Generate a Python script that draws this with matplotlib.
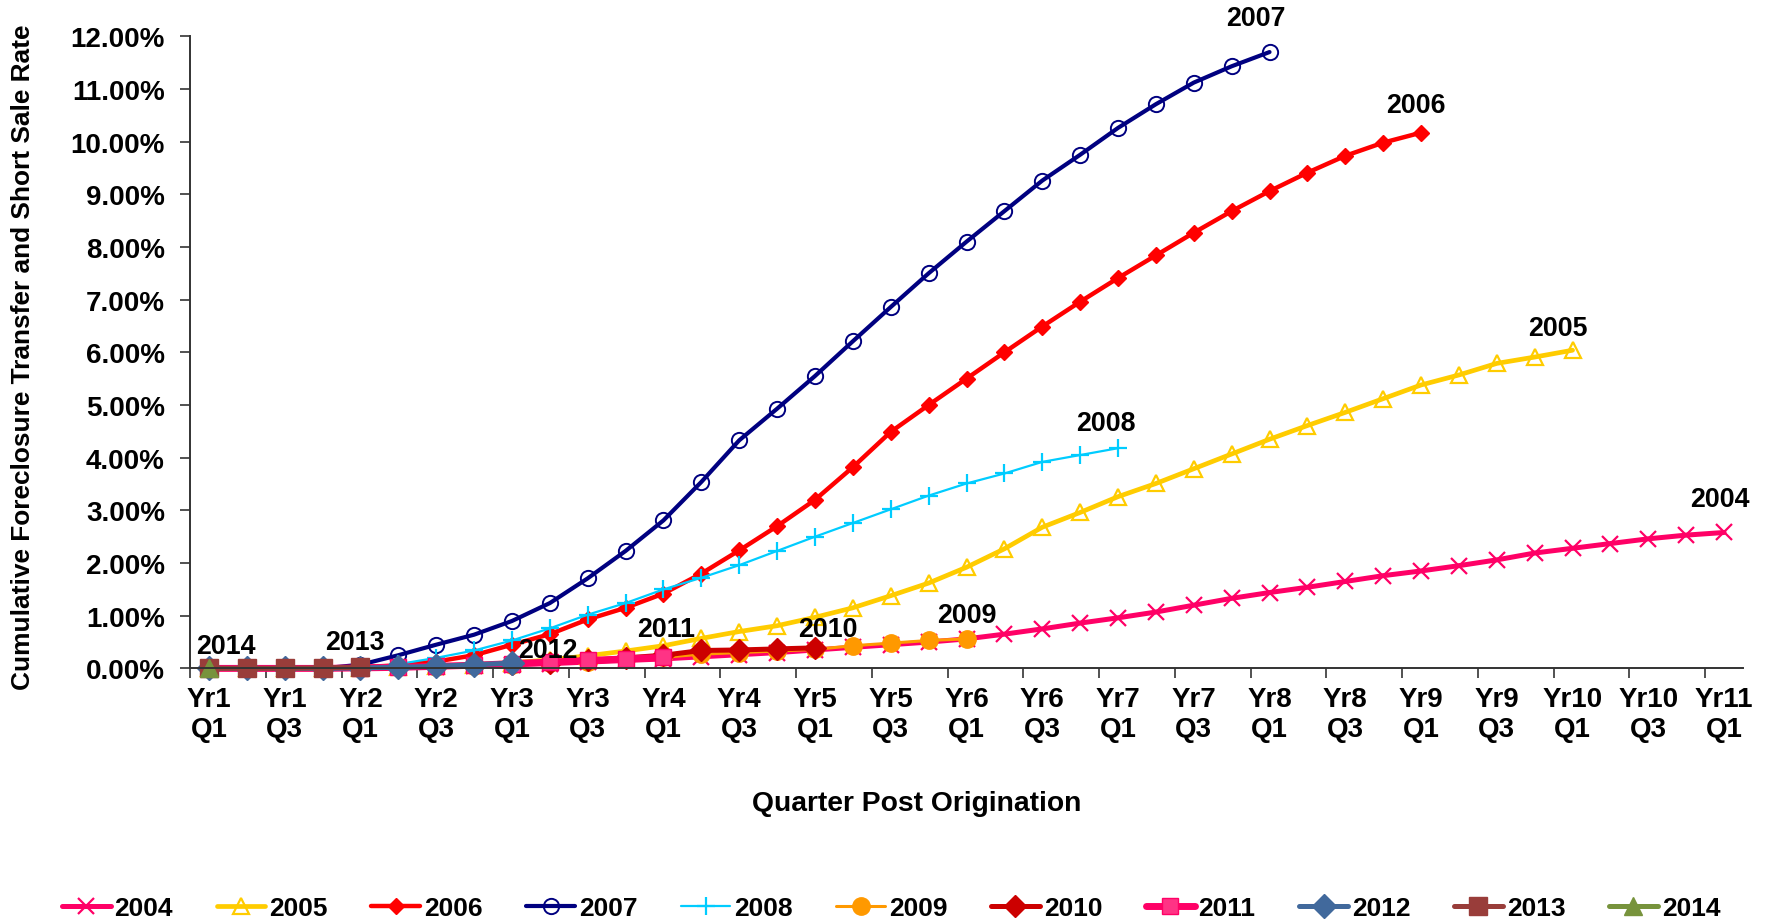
import matplotlib
matplotlib.use("Agg")
import matplotlib.pyplot as plt
import numpy as np

plt.rcParams['font.family'] = ['Liberation Sans', 'DejaVu Sans']
plt.rcParams['font.weight'] = 'bold'

# ---------------- data (cumulative rate, %) ----------------
x_tick_labels = ["Yr1\nQ1", "Yr1\nQ3", "Yr2\nQ1", "Yr2\nQ3", "Yr3\nQ1", "Yr3\nQ3",
                 "Yr4\nQ1", "Yr4\nQ3", "Yr5\nQ1", "Yr5\nQ3", "Yr6\nQ1", "Yr6\nQ3",
                 "Yr7\nQ1", "Yr7\nQ3", "Yr8\nQ1", "Yr8\nQ3", "Yr9\nQ1", "Yr9\nQ3",
                 "Yr10\nQ1", "Yr10\nQ3", "Yr11\nQ1"]

s2004 = [0, 0, 0, 0, 0.01, 0.02, 0.03, 0.05, 0.07, 0.09, 0.12, 0.15, 0.18, 0.22,
         0.26, 0.30, 0.35, 0.40, 0.45, 0.50, 0.56, 0.65, 0.75, 0.86, 0.96, 1.07,
         1.20, 1.33, 1.44, 1.54, 1.65, 1.76, 1.85, 1.95, 2.06, 2.19, 2.28, 2.37,
         2.46, 2.53, 2.58]
s2005 = [0, 0, 0, 0, 0.01, 0.02, 0.04, 0.07, 0.11, 0.16, 0.24, 0.33, 0.43, 0.57,
         0.70, 0.81, 0.97, 1.15, 1.38, 1.62, 1.92, 2.27, 2.68, 2.96, 3.26, 3.51,
         3.79, 4.07, 4.35, 4.61, 4.86, 5.12, 5.38, 5.57, 5.79, 5.91, 6.04]
s2006 = [0, 0, 0, 0, 0.02, 0.06, 0.13, 0.25, 0.45, 0.65, 0.93, 1.15, 1.42, 1.80,
         2.24, 2.70, 3.20, 3.82, 4.49, 5.00, 5.50, 6.00, 6.49, 6.96, 7.41, 7.84,
         8.27, 8.68, 9.06, 9.41, 9.73, 9.98, 10.17]
s2007 = [0, 0, 0, 0, 0.07, 0.25, 0.45, 0.64, 0.90, 1.24, 1.71, 2.23, 2.81, 3.54,
         4.33, 4.93, 5.55, 6.21, 6.86, 7.50, 8.10, 8.68, 9.26, 9.75, 10.26, 10.71,
         11.12, 11.43, 11.70]
s2008 = [0, 0, 0, 0, 0.02, 0.08, 0.20, 0.34, 0.53, 0.76, 1.02, 1.24, 1.50, 1.72,
         1.96, 2.23, 2.50, 2.76, 3.02, 3.28, 3.51, 3.70, 3.92, 4.05, 4.18]
s2009 = [0, 0, 0, 0, 0.01, 0.02, 0.03, 0.05, 0.07, 0.10, 0.13, 0.17, 0.21, 0.27,
         0.30, 0.33, 0.36, 0.43, 0.48, 0.53, 0.56]
s2010 = [0, 0, 0, 0, 0.01, 0.02, 0.04, 0.06, 0.08, 0.11, 0.15, 0.20, 0.25, 0.34,
         0.35, 0.37, 0.39]
s2011 = [0, 0, 0, 0, 0.01, 0.02, 0.04, 0.06, 0.09, 0.12, 0.15, 0.18, 0.21]
s2012 = [0, 0, 0, 0, 0.01, 0.02, 0.04, 0.07, 0.10]
s2013 = [0, 0, 0, 0.01, 0.02]
s2014 = [0]

series_names = ["2004", "2005", "2006", "2007", "2008", "2009", "2010", "2011",
                "2012", "2013", "2014"]
series_values = [s2004, s2005, s2006, s2007, s2008, s2009, s2010, s2011, s2012,
                 s2013, s2014]

# ---------------- styles ----------------
styles = {
    "2004": dict(color="#FF0066", lw=3.6, marker="x", ms=11, mew=1.6, mfc="#FF0066", mec="#FF0066"),
    "2005": dict(color="#FFCC00", lw=3.4, marker="^", ms=12, mew=1.6, mfc="none", mec="#FFCC00"),
    "2006": dict(color="#FF0000", lw=3.2, marker="D", ms=8, mew=1, mfc="#FF0000", mec="#FF0000"),
    "2007": dict(color="#000080", lw=3.0, marker="o", ms=11, mew=1.4, mfc="none", mec="#000080"),
    "2008": dict(color="#00CCFF", lw=1.6, marker="+", ms=13, mew=1.6, mfc="#00CCFF", mec="#00CCFF"),
    "2009": dict(color="#FF9900", lw=2.2, marker="o", ms=12.5, mew=1, mfc="#FF9900", mec="#FF9900"),
    "2010": dict(color="#CC0000", lw=3.6, marker="D", ms=11, mew=1, mfc="#CC0000", mec="#CC0000"),
    "2011": dict(color="#FF0066", lw=5.0, marker="s", ms=12, mew=1, mfc="#FF3385", mec="#FF0066"),
    "2012": dict(color="#41699C", lw=3.6, marker="D", ms=12, mew=1, mfc="#41699C", mec="#41699C"),
    "2013": dict(color="#993D3A", lw=3.6, marker="s", ms=13, mew=1, mfc="#993D3A", mec="#993D3A"),
    "2014": dict(color="#77933C", lw=3.6, marker="^", ms=13, mew=1, mfc="#77933C", mec="#77933C"),
}

# label positions (x in quarter index, y in %)
label_pos = {
    "2007": (27.63, 12.35), "2006": (31.86, 10.69), "2005": (35.62, 6.47),
    "2008": (23.69, 4.65), "2004": (39.90, 3.22), "2009": (20.0, 1.01),
    "2010": (16.33, 0.75), "2011": (12.07, 0.75), "2012": (8.94, 0.35),
    "2013": (3.84, 0.51), "2014": (0.45, 0.43),
}

FS_TICK = 20
FS_ANN = 19.3

fig = plt.figure(figsize=(17.7, 9.2), dpi=100)
ax = fig.add_axes([190 / 1770, 1 - 669.4 / 920, (1743 - 190) / 1770, (669.4 - 37.25) / 920])

handles = []
for name, vals in zip(series_names, series_values):
    st = styles[name]
    xs = np.arange(len(vals))
    h, = ax.plot(xs, vals, color=st["color"], lw=st["lw"], marker=st["marker"],
                 ms=st["ms"], mew=st["mew"], mfc=st["mfc"], mec=st["mec"],
                 label=name, clip_on=False, solid_capstyle="round")
    handles.append(h)

for name in series_names:
    lx, ly = label_pos[name]
    ax.text(lx, ly, name, ha="center", va="center", fontsize=FS_ANN, fontweight="bold",
            clip_on=False)

ax.set_xlim(-0.5, 40.5)
ax.set_ylim(0, 12)

ax.set_xticks(np.arange(-0.5, 40, 2))
ax.set_xticklabels([])
ax.set_xticks(np.arange(0, 41, 2), minor=True)
ax.set_xticklabels(x_tick_labels, minor=True, fontsize=FS_TICK, fontweight="bold")
ax.tick_params(axis="x", which="major", direction="out", length=7, width=1.2, color="#333333")
ax.tick_params(axis="x", which="minor", length=0, pad=13)

ax.set_yticks(np.arange(0, 13, 1))
ax.set_yticklabels([f"{v:.2f}%" for v in np.arange(0, 13, 1)], fontsize=FS_TICK, fontweight="bold")
ax.tick_params(axis="y", direction="out", length=7, width=1.2, color="#333333", pad=11)

for side in ["top", "right"]:
    ax.spines[side].set_visible(False)
for side in ["left", "bottom"]:
    ax.spines[side].set_color("#333333")
    ax.spines[side].set_linewidth(1.4)

fig.text(22.6 / 1770, 1 - 357 / 920, "Cumulative Foreclosure Transfer and Short Sale Rate",
         rotation=90, ha="center", va="center", fontsize=18.9, fontweight="bold")
fig.text(917 / 1770, 1 - 804 / 920, "Quarter Post Origination",
         ha="center", va="center", fontsize=20.3, fontweight="bold")

fig.legend(handles, series_names, ncol=11, loc="center",
           bbox_to_anchor=(891 / 1770, 11 / 920), frameon=False,
           prop=dict(size=19, weight="bold"), handlelength=1.85, handletextpad=0.15,
           columnspacing=1.65, borderaxespad=0)

fig.savefig("out.png", dpi=100)
